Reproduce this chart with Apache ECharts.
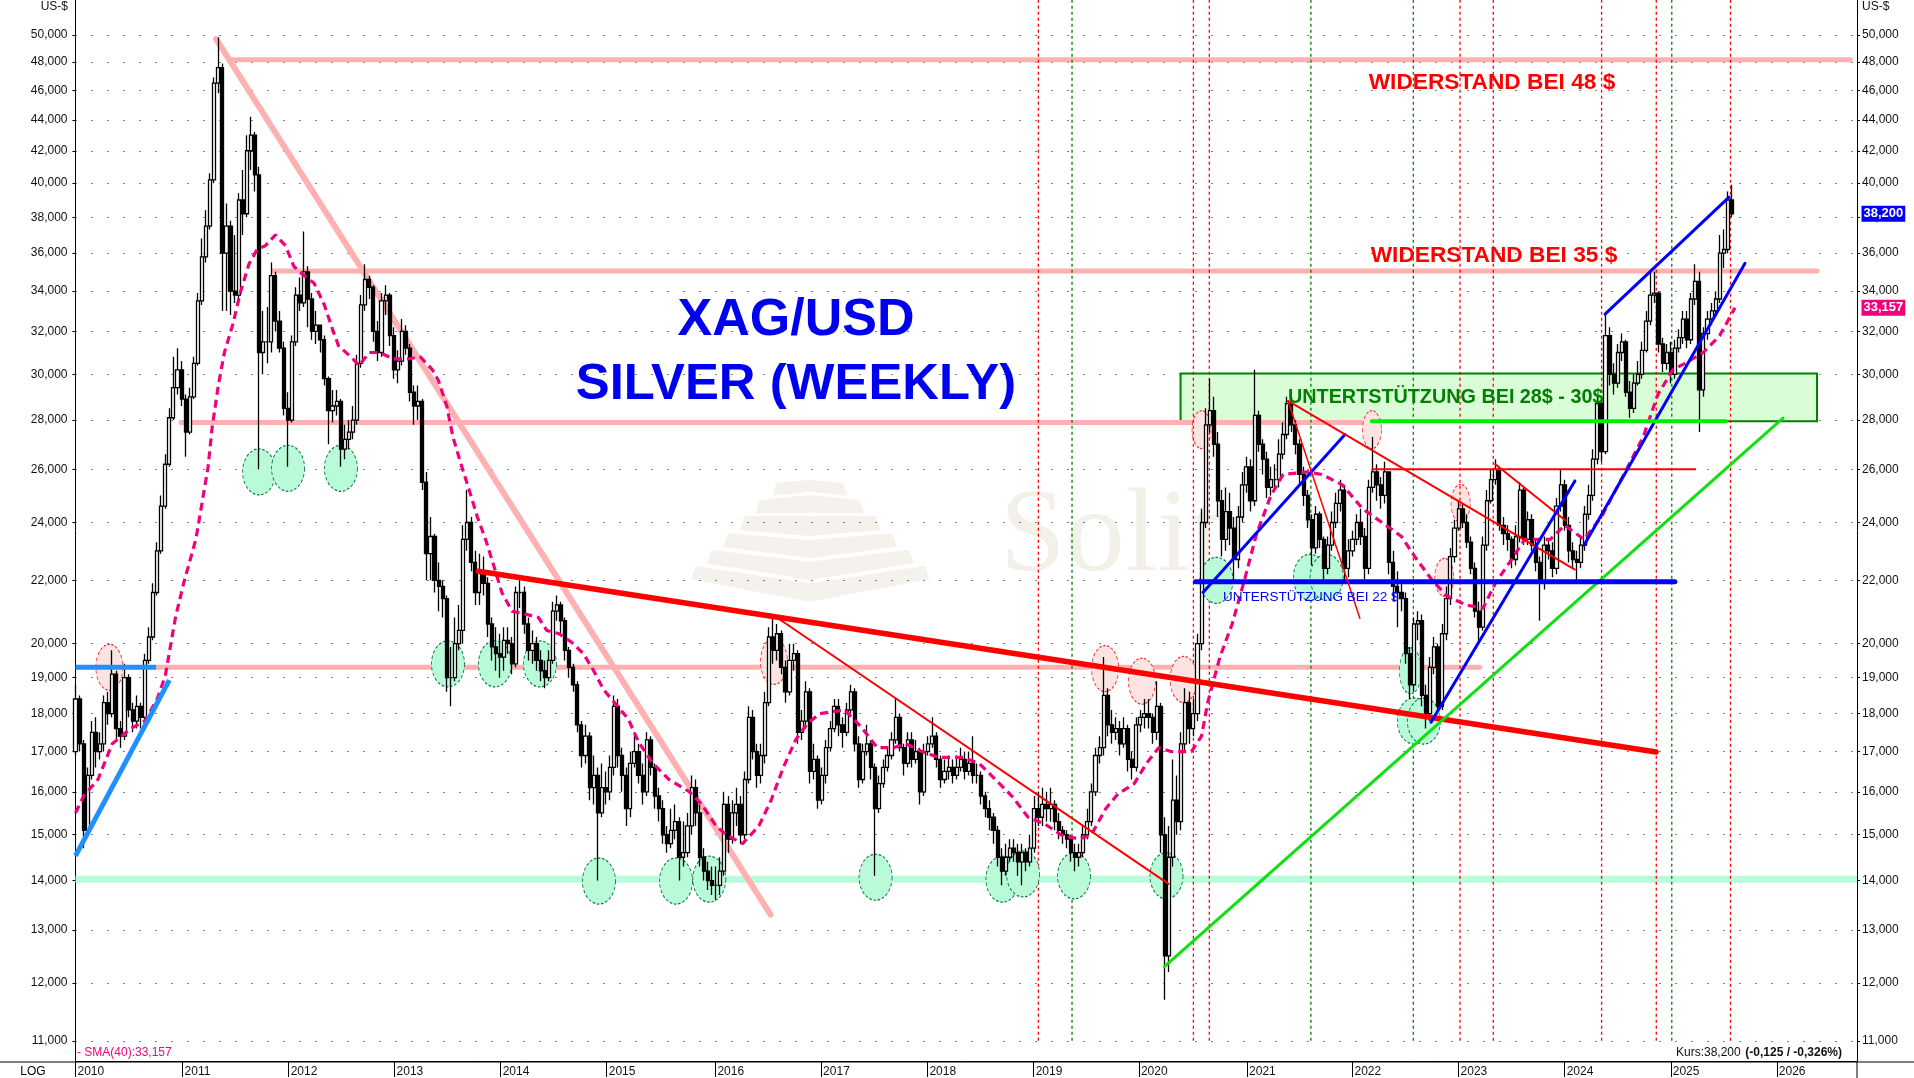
<!DOCTYPE html>
<html><head><meta charset="utf-8">
<style>html,body{margin:0;padding:0;background:#fff}#c{width:1914px;height:1078px}</style>
<script src="https://cdn.jsdelivr.net/npm/echarts@6/dist/echarts.min.js"></script>
</head><body><div id="c"></div>
<script>
// ---------- axis values ----------
const priceTicks=[11,12,13,14,15,16,17,18,19,20,22,24,26,28,30,32,34,36,38,40,42,44,46,48,50];
const yearLabels=['2010','2011','2012','2013','2014','2015','2016','2017','2018','2019','2020','2021','2022','2023','2024','2025','2026'];
const yearWeeks=[0,52.5,104.5,156.4,208.4,260.4,313.7,365.5,417.6,469.7,521.3,574.3,626,678,730,782,834];
// ---------- price, one reading every second week, one line per year ----------
const closes=[
18.4,17.2,15.1,16.4,17.5,17.0,17.2,18.3,18.0,19.1,17.6,17.4,19.0,18.1,17.8,18.2,17.9,19.5,20.2,21.6,23.0,24.6,26.2,28.1,29.4,30.2,
28.9,27.5,29,30.5,33.5,35.8,37.5,40.2,46.5,47.6,36,37.5,34,33.8,39,38.2,42,43,40.5,31,31.5,31.5,34.8,32.5,31.2,28.5,
28,31.5,33.8,33.4,35,33.6,32,32.3,31.6,29.8,28.4,28.6,28.8,26.8,27.2,27.5,28,30.5,33.3,34.6,34.2,32,31,33.5,33.8,31.8,
30.2,30.6,32,31.2,29.2,28.6,28.8,25.5,22.9,23.5,22,21.8,21.4,19,19,20,20.4,23.4,24,22.6,21.6,22.3,21.9,20.6,19.9,19.7,
19.6,20.1,20,19.4,21.6,21.6,20.6,19.8,20,19.5,19.2,19,19.5,21,21.2,20.7,19.8,19.3,18.8,17.7,16.9,17.4,16.1,16.4,15.5,16.1,
16,16.6,18.2,16.9,16.4,15.6,16.7,17,16.4,16,17.3,16.6,15.9,15.6,15,14.8,15.1,15.3,14.5,14.6,15.2,16.1,15.5,14.5,14.2,14,13.9,
13.9,14.2,15.7,14.9,15.5,15.7,15,16.3,17.9,17,16.4,16.9,18.3,20.2,19.8,20.3,19.3,18.6,19.5,19.7,17.5,17.8,18.6,16.5,16.8,
15.8,16.4,17.1,17.6,18.2,17.7,17.5,18.1,18.6,17.2,16.3,17,17.2,16.6,15.6,16.2,16.6,16.9,17.3,17.9,17.1,16.7,17.3,16.8,17,16,
17,17.2,17.4,16.8,16.3,16.5,16.6,16.4,16.6,16.8,16.5,16.7,16.4,16.4,15.9,15.6,15.4,15.1,14.5,14.2,14.5,14.7,14.6,14.4,14.6,14.4,
14.7,15.6,15.4,15.7,15.6,15.7,15.3,15.1,15,14.9,14.6,14.5,14.6,15,15.3,16,16.9,17.1,18.5,17.7,17.5,17.6,17.2,17.6,16.8,16.6,17.7,
17.9,18,17.9,17.5,18.2,15,12.5,14.5,15.8,15.3,17.2,18.3,17.6,18,20,24,27.8,28.4,27,24.8,23.4,24.4,23.8,22.7,24.2,25.4,
26.1,24.8,28.2,27,26.4,25.3,25.6,25.6,26.6,27.4,28.7,27.8,27,25.8,25,24.1,23.1,24.3,23.4,22.4,23.2,24,24.7,25.2,22.4,23,
23.4,24,23.5,22.4,25.3,25.9,25.4,25,25.9,22.6,21.8,21.6,21.4,19.7,18.8,20.6,20.7,18.5,18,19.3,19.9,18.2,20.3,21.4,22.8,23.8,
24.5,24,23.3,22.4,21,20.5,23.2,24.8,25.6,26,23.9,23.6,23.4,22.7,23.5,25.2,23.4,24.1,23.2,22.6,21.9,23.2,23,22.4,24.6,25.4,
23.9,23,22.7,22.6,23.2,24.3,25,26.4,28.7,26.7,31.8,30,29.6,31,31.5,29.2,28.5,29.6,30,31.1,32.5,33.8,33.9,31.4,30.5,31,
30,31.2,31.7,32.6,31.6,33.6,34.5,29.3,31.9,32.6,33,33.6,36,36.2,39,38.2];
const highs=[
18.8,18.5,17.3,16.6,17.8,17.9,17.5,18.5,18.6,19.8,19.2,17.8,19.4,19.1,18.3,18.5,18.3,19.7,20.5,21.9,23.3,25,26.6,28.5,30.8,31.2,
30.6,29.1,29.4,30.8,33.9,36.8,38.4,40.6,46.9,49.8,47.9,38.8,37.8,37,39.4,40.8,43,44.2,43.2,41,33,33.2,35.5,35,33,31.5,
29.2,31.8,34.2,34.7,37.2,35.3,33.9,33,32.2,31.8,29.9,29.3,29.3,28.9,27.8,28,28.6,30.9,33.8,35.4,34.8,34.3,32.5,33.9,34.3,33.9,
32.2,31.1,32.6,32.3,31.4,29.5,29.5,28.9,25.9,24.2,23.6,22.6,22,21.5,19.9,20.8,21.2,23.9,25.2,24.2,23,22.9,22.8,22.1,20.8,20.5,
20.3,20.5,20.5,20.2,21.8,22,21.8,20.8,20.4,20.2,19.8,19.5,19.8,21.3,21.5,21.3,20.8,19.9,19.4,18.9,17.8,17.7,17.5,16.9,16.6,16.7,
16.5,16.9,18.5,18.4,17.1,16.6,17,17.5,17.2,16.7,17.5,17.4,16.7,16.1,15.8,15.2,15.6,15.7,15.4,15.3,15.5,16.4,16.3,15.7,14.7,14.4,14.3,
14.3,14.5,16,15.9,15.8,16.1,15.9,16.5,18.2,18.1,17.2,17.2,18.6,20.5,20.9,20.6,20.4,19.5,20,20,19.8,18.1,18.9,18.7,17.2,
16.9,16.6,17.3,17.8,18.4,18.4,17.9,18.3,18.8,18.7,17.4,17.2,17.7,17.3,16.7,16.4,16.8,17.1,17.5,18.4,18,17.2,17.5,17.5,17.3,17.1,
17.2,17.4,17.9,17.5,16.9,16.8,16.9,16.8,16.9,17.1,17,17,17.4,16.7,16.5,16,15.8,15.5,15.2,14.7,14.8,14.9,14.9,14.8,14.8,14.7,
15,15.9,16,16.1,16,16.1,15.8,15.5,15.2,15.1,15,14.8,14.8,15.2,15.6,16.2,17.1,17.4,19.6,18.7,18.1,17.9,17.8,17.9,17.7,17,17.9,
18.1,18.4,18.4,18,18.9,18.3,15.4,15.2,16.8,16.4,17.5,18.7,18.6,18.4,20.3,24.5,28.5,29.8,29,27.5,25.2,25.3,25.1,24.2,24.6,25.9,
26.5,26.4,30.2,28.4,27.2,26.7,26.1,26.2,27.2,27.9,29,29,28,27.2,26.1,25.2,24.3,24.6,24.4,23.5,23.5,24.4,25.1,25.6,25.4,23.4,
23.7,24.3,24.5,23.8,25.6,27.3,26.2,25.7,26.3,25.9,23,22.3,21.9,21.6,19.9,20.8,21,20.9,18.8,19.6,20.2,20,20.6,21.8,23.1,24.1,
24.8,24.7,24.3,23.5,22.6,21.3,23.5,25.2,26,26.4,26.1,24.2,23.9,23.5,23.9,25.5,25.3,24.4,24.3,23.4,22.8,23.5,23.4,23.3,24.9,26,
25.6,24.2,23.3,23,23.5,24.6,25.4,26.8,29,28.9,32.8,32.2,30.5,31.4,31.9,31.6,29.7,30,30.6,31.5,33,35,35,34,31.7,31.4,
31.5,31.6,32.1,33,33,33.9,35.4,35,32.2,33,33.4,34,37,37.3,39.5,39.9];
const lows=[
16.9,17,14.7,15,16.3,16.6,16.8,17,17.7,17.9,17.3,17.1,17.3,17.9,17.5,17.6,17.6,17.7,19.4,20.1,21.5,22.9,24.5,26.1,28,29.1,
28.6,26.5,27.4,28.9,30.4,33.3,35.5,37.3,40,45.8,33,33,32.8,33.4,33.6,37,38,40.8,39.5,26,30,30.5,31,32,31,28.2,
26.1,27.9,31.3,33,33.2,32.2,31.6,31.4,31,29.5,27,27.9,28.2,26.1,26.4,26.8,27.2,27.8,30.3,33,33.6,31.5,30.6,30.8,32.8,31.3,
29.8,29.6,30.4,30.9,28.8,27.8,28,25.2,22,22,21.6,21,20.8,18.6,18.2,18.9,19.8,20,23,22.3,21.2,21.2,21.5,20.2,19.5,19.2,
19,19.2,19.7,19.1,19.3,21.1,20.3,19.5,19.4,19.2,18.9,18.7,18.9,19.4,20.7,20.3,19.5,19,18.6,17.5,16.6,16.7,15.8,15.7,14,15.4,
15.7,15.8,16.4,16.6,16,15.2,15.4,16.6,16.2,15.7,15.9,16.4,15.6,15.3,14.8,14.6,14.7,14.9,14,14.3,14.5,15,15.2,14.3,14,13.8,13.7,
13.6,13.7,14.1,14.6,14.8,15.2,14.8,14.9,16.2,16.8,16.1,16.2,16.7,18.2,19.4,19.5,19.1,18.3,18.5,19.2,17.2,17.3,17.6,16.2,16.3,
15.6,15.7,16.2,17,17.5,17.4,17.1,17.4,18,17,16.1,16.2,16.9,16.3,14.1,15.5,16.1,16.5,16.8,17.2,17,16.4,16.6,16.6,16.7,15.7,
15.9,16.9,17.1,16.6,16.1,16.2,16.3,16.2,16.3,16.5,16.3,16.4,16.2,16.2,15.7,15.4,15.1,14.8,14.3,13.9,14.1,14.4,14.4,14.1,13.9,14.2,
14.3,14.6,15.2,15.2,15.3,15.3,15.1,14.9,14.8,14.7,14.4,14.2,14.3,14.5,14.9,15.2,15.9,16.7,16.9,17.4,17.2,17.3,16.9,17.1,16.5,16.3,16.5,
17.5,17.6,17.6,17.2,17.3,14.6,11.7,12.2,14.3,15,15.1,17,17.2,17.4,17.8,19.8,23.8,27.5,26.5,24.2,22.8,23,23.2,21.9,22.4,24,
25.1,24.4,24.6,26.7,25.8,24.9,25,25.2,25.3,26.4,27.2,27.5,26.6,25.4,24.6,23.8,22.5,22.9,23.1,22,22.2,23,23.8,24.4,22,22.1,
22.8,23.2,23.2,22,22.2,25.1,24.8,24.5,24.7,22.2,21.3,20.5,21,19.4,18.4,18.6,20.1,18.2,17.6,17.8,19.1,18,18.1,20.1,21.2,22.6,
23.7,23.8,23.1,22.2,20.8,20,20.4,23,24.7,25.4,23.7,23.2,23,22.4,22.5,23.3,23.2,23.2,23,22.3,20.7,21.7,22.7,22.1,22.2,24.4,
23.7,22.6,22.4,21.9,22.4,23,24.1,24.8,26.2,26.3,26.6,29.5,29.1,29.4,30.6,29,28.1,28.3,29.5,29.8,31,32.3,33.4,31,30.1,30.2,
29.6,29.8,31,31.4,31.2,31.4,33.3,27.5,29,31.6,32.3,32.7,33.4,35.2,36,38];
const firstOpen=17.0;
// ---------- SMA(40), [week, price] ----------
const sma40=[[0,15.5],[4,15.9],[11,16.3],[18,17.2],[27,17.6],[34,17.8],[40,18.4],[44,19.05],[49,20.8],[53,21.9],[59,23.4],[62,24.7],[65,26.1],[67,27.7],[70,29.5],[73,31],[77,32.3],[81,34],[85,35.4],[89,36.2],[93,36.4],[98,37],[103,36.4],[107,35.3],[111,34.9],[117,34.4],[122,33.3],[126,32.1],[129,31.3],[135,30.8],[139,30.4],[144,31],[149,31],[156,30.7],[163,30.7],[169,30.8],[175,30.2],[178,29.7],[182,28.6],[185,27.3],[189,26.2],[193,25.2],[197,24.2],[201,23.4],[205,22.5],[209,21.6],[214,21],[221,20.9],[227,20.8],[231,20.4],[237,20.3],[243,20.05],[249,19.7],[254,19.2],[259,18.65],[265,18.25],[271,17.85],[276,17.25],[283,16.7],[291,16.3],[301,16],[307,15.7],[314,15.2],[319,15],[327,14.8],[335,15.2],[341,15.8],[347,16.6],[353,17.3],[359,17.75],[365,18],[377,18.1],[385,17.65],[393,17.1],[401,17.1],[407,17.2],[415,17],[423,16.85],[435,16.85],[443,16.7],[451,16.3],[459,15.9],[467,15.4],[475,15.25],[483,15],[492,14.9],[498,15],[505,15.6],[511,15.95],[519,16.2],[525,16.7],[531,17.1],[537,17],[547,17],[552,17.4],[555,18.3],[561,19.6],[567,20.6],[573,22],[579,23.6],[586,25],[592,25.8],[604,25.9],[611,25.8],[621,25.4],[631,24.5],[640.5,24],[650,23.5],[657,22.75],[664.5,22.05],[672,21.5],[681.5,21.2],[690,21.1],[696,21.9],[703,22.6],[710.5,23.4],[723,23.4],[730,23.9],[739.5,23.4],[748,24.2],[759,25.8],[768.5,27.3],[775.7,29.1],[783,30.2],[789,30.5],[798,31],[806,31.8],[813.5,33.16]];
// ---------- levels and trend lines, [week, price] ----------
const resist48=[[75.7,48.17],[870,48.17]];
const resist35=[[96.9,35.05],[853.7,35.05]];
const level28=[[51.7,27.9],[635.5,27.9]];
const level28Green=[[635.5,27.95],[809,27.95]];
const level19=[[39.5,19.3],[688.5,19.3]];
const level19Blue=[[0,19.3],[39.5,19.3]];
const level14=[[0,14.03],[873.3,14.03]];
const fallPink=[[68.9,49.7],[340.7,13.3]];
const riseBlue2010=[[0,14.53],[46,18.93]];
const thickRed=[[197.5,22.3],[774.8,16.99]];
const thinRed2016=[[342.7,20.85],[535.8,13.93]];
const riseLime=[[533.8,12.3],[837,28.08]];
const riseBlue2020=[[552.7,21.6],[622.3,27.4]];
const level22=[[549,21.95],[784,21.95]];
const thinRed2021=[[594.4,28.82],[735,22.36]];
const steepRed2021=[[594.4,28.82],[629.6,20.78]];
const level26=[[636,26],[794,26]];
const thinRed2023=[[696,26.2],[730.4,24.07]];
const riseBlue2022=[[664.5,17.77],[735,25.55]];
const riseBlue2024=[[739.5,23.19],[818.4,35.46]];
const wedgeBlue=[[749.8,32.84],[810.6,39.17]];
const supportBox=[[541.7,30.04],[853.7,27.95]];
// ---------- vertical date markers, weeks ----------
const redMarkers=[472,548,555.8,678.7,695,748.1,774.9,811.3];
const greenMarkers=[488.5,605.6,655.8,782.5];
// ---------- circled touches, [week, price] ----------
const greenTouches=[[90,25.9],[104.2,26.04],[130.1,26.04],[182.6,19.4],[205.6,19.4],[227.7,19.4],[256.6,13.99],[294.4,13.99],[310.7,14.03],[392.2,14.07],[454.4,14.03],[464.5,14.14],[489.5,14.1],[534.8,14.1],[559.3,22],[605.1,22.1],[613.3,22.1],[656.1,17.8],[661,17.8]];
const greenNarrowTouches=[[654.4,19.2]];
const pinkTouches=[[16.6,19.3],[342.4,19.47],[504.7,19.26],[522.8,18.9],[543.2,18.95]];
const pinkSmallTouches=[[635.5,27.6],[552,27.6],[679,24.7],[671,22.1]];
const lastPrice=38.2, lastSma=33.157;

// ---------- build ----------
const axisEnd=873.3, priceMin=10.67, priceMax=52.7;
const fmt=v=>Number(v).toFixed(3).replace('.',',');
const bars=closes.map((c,i)=>{const o=i?closes[i-1]:firstOpen;
  return [i*2,o,c,Math.min(lows[i],o,c),Math.max(highs[i],o,c)];});
const line=(data,color,width,z,extra)=>Object.assign({type:'line',data,symbol:'none',silent:true,z,
  lineStyle:{color,width,cap:'round'}},extra||{});
const PINK='#ffb0b0', RED='#ff0000', BLUE='#0000ff', SKY='#2090ff', LIME='#00ee00', MAGENTA='#f0007c';
const vertical=(w,color)=>({type:'line',data:[[w,11],[w,priceMax]],symbol:'none',silent:true,z:2,
  lineStyle:{color,width:1.3,type:[3,3]}});
const touches=(data,size,fill,edge)=>({type:'scatter',data,symbol:'circle',symbolSize:size,silent:true,z:2,clip:true,
  itemStyle:{color:fill,opacity:1,borderColor:edge,borderWidth:1,borderType:[3,2]}});
const tag=(v,bg)=>({type:'scatter',data:[[axisEnd,v]],symbolSize:1,silent:true,z:9,clip:false,
  itemStyle:{color:'rgba(0,0,0,0)'},
  label:{show:true,position:'right',distance:4,opacity:1,formatter:()=>fmt(v),color:'#fff',backgroundColor:bg,
    fontFamily:'Liberation Sans',fontSize:13,fontWeight:'bold',padding:[2,2,1,2]}});
const series=[
  Object.assign(touches(pinkSmallTouches,[19,38],'#fbe4e2','#ff2020'),{z:1}),
  {type:'line',data:[],z:1,silent:true,markArea:{silent:true,z:1,itemStyle:{color:'#d9fdd6',borderColor:'#008000',borderWidth:2},
    data:[[{coord:supportBox[0]},{coord:supportBox[1]}]]}},
  line(level14,'#b8fcdc',7,1,{lineStyle:{color:'#b8fcdc',width:7,cap:'butt'}}), line(resist48,PINK,5,1), line(resist35,PINK,5,1), line(level28,PINK,5,1),
  line(level19,PINK,5,1), line(fallPink,PINK,6,1),
  touches(greenTouches,[33,46],'#b9fbd9','#007840'),
  touches(greenNarrowTouches,[22,46],'#b9fbd9','#007840'),
  touches(pinkTouches,[27,46],'#fbe4e2','#ff2020'),
  ...redMarkers.map(w=>vertical(w,RED)), ...greenMarkers.map(w=>vertical(w,'#008000')),
  {type:'candlestick',data:bars,barWidth:3.6,silent:true,z:3,
    itemStyle:{color:'#fff',color0:'#000',borderColor:'#000',borderColor0:'#000',borderWidth:1.3}},
  line(sma40,MAGENTA,3,4,{lineStyle:{color:MAGENTA,width:3.2,type:[8,5]}}),
  line(level19Blue,SKY,5,5,{lineStyle:{color:SKY,width:5,cap:'butt'}}), line(riseBlue2010,SKY,5,5,{lineStyle:{color:SKY,width:5,cap:'butt'}}), line(thickRed,RED,5.5,5),
  line(thinRed2016,RED,2,5), line(riseLime,'#10e010',3,5), line(riseBlue2020,BLUE,3,5), line(level22,BLUE,5,5),
  line(thinRed2021,RED,2,5), line(steepRed2021,RED,1.5,5), line(level26,RED,2,5), line(thinRed2023,RED,2,5),
  line(riseBlue2022,BLUE,3,5), line(riseBlue2024,BLUE,3,5), line(wedgeBlue,BLUE,3,5), line(level28Green,LIME,4,5),
  tag(lastPrice,'#0000ff'), tag(lastSma,MAGENTA)
];
const pricePoints=priceTicks;
const yAxis=(position)=>({type:'log',logBase:10,min:priceMin,max:priceMax,position,
  axisLine:{show:true,onZero:false,lineStyle:{color:'#000',width:1}},
  axisTick:{show:true,length:3,customValues:pricePoints,lineStyle:{color:'#000'}},
  axisLabel:{show:true,customValues:pricePoints,formatter:fmt,margin:position==='left'?8:5,color:'#111',
    fontFamily:'Liberation Sans',fontSize:12},
  minorTick:{show:false},minorSplitLine:{show:false},
  splitLine:{show:position==='left',lineStyle:{color:'#000',width:1,type:[1,15]}}});
const py=(x,y)=>[x/2.9+670,y/3+460];
const pyramid=[
 [[310,68],[405,60],[500,68],[515,107],[405,95],[297,107]],
 [[260,120],[405,105],[550,120],[563,160],[405,158],[248,160]],
 [[215,168],[597,168],[610,210],[405,228],[203,210]],
 [[168,220],[405,240],[645,220],[658,260],[405,295],[153,260]],
 [[120,270],[405,305],[693,270],[707,310],[405,360],[107,310]],
 [[75,318],[405,370],[740,318],[752,358],[405,425],[60,358]]];
const txt=(text,x,y,fill,font,align)=>({type:'text',z:20,silent:true,style:{text,x,y,fill,font,textAlign:align||'left',textVerticalAlign:'middle'}});
const rule=(x1,y1,x2,y2)=>({type:'line',z:20,silent:true,shape:{x1,y1,x2,y2},style:{stroke:'#000',lineWidth:1}});
const chart=echarts.init(document.getElementById('c'));
chart.setOption({
  animation:false,backgroundColor:'#fff',
  grid:{left:75.5,right:57,top:0,bottom:16,containLabel:false},
  tooltip:{show:false},legend:{show:false},
  xAxis:{type:'value',min:0,max:axisEnd,
    axisLine:{show:true,onZero:false,lineStyle:{color:'#000',width:1}},
    axisTick:{show:true,length:16,customValues:yearWeeks,lineStyle:{color:'#000'}},
    axisLabel:{show:true,customValues:yearWeeks,align:'left',margin:5,padding:[0,0,0,2],color:'#111',
      fontFamily:'Liberation Sans',fontSize:12,formatter:v=>yearLabels[yearWeeks.indexOf(v)]},
    splitLine:{show:false},minorTick:{show:false}},
  yAxis:[yAxis('left'),yAxis('right')],
  series,
  graphic:{elements:[
    ...pyramid.map(pts=>({type:'polygon',z:0,silent:true,shape:{points:pts.map(p=>py(p[0],p[1]))},style:{fill:'#f5f2ed'}})),
    {type:'text',z:0,silent:true,style:{text:'Solit',x:1000,y:598,fill:'#f3f0ea',font:'118px "Liberation Serif"',textVerticalAlign:'bottom'}},
    rule(0,1062,1914,1062), rule(1857,1062,1857,1078),
    txt('US-$',68,7,'#111','12px "Liberation Sans"','right'),
    txt('US-$',1862,7,'#111','12px "Liberation Sans"'),
    txt('LOG',33,1072,'#000','12px "Liberation Sans"','center'),
    txt('XAG/USD',796,320.5,'#0000f0','bold 52px "Liberation Sans"','center'),
    txt('SILVER (WEEKLY)',796,384.5,'#0000f0','bold 50.8px "Liberation Sans"','center'),
    txt('WIDERSTAND BEI 48 $',1492,83,'#ff0000','bold 22.7px "Liberation Sans"','center'),
    txt('WIDERSTAND BEI 35 $',1494,256,'#ff0000','bold 22.7px "Liberation Sans"','center'),
    txt('UNTERTSTÜTZUNG BEI 28$ - 30$',1288,398,'#008000','bold 19.8px "Liberation Sans"'),
    txt('UNTERSTÜTZUNG BEI 22 $',1223,597,'#0000f0','13.5px "Liberation Sans"'),
    txt('- SMA(40):33,157',77,1053,MAGENTA,'12px "Liberation Sans"'),
    txt('Kurs:38,200',1676,1053,'#111','12px "Liberation Sans"'),
    txt('(-0,125 / -0,326%)',1842,1053,'#111','bold 12px "Liberation Sans"','right')
  ]}
});
</script></body></html>
